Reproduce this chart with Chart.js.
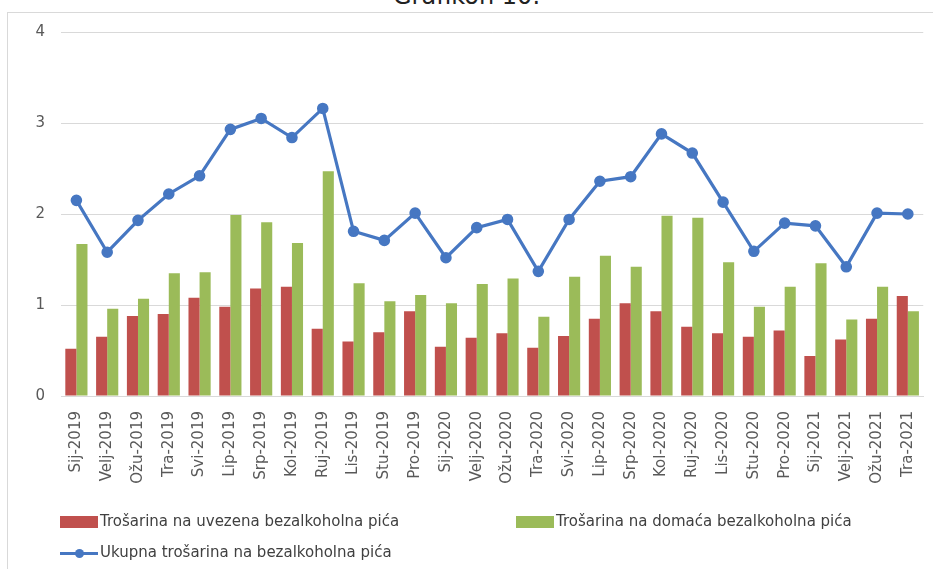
<!DOCTYPE html>
<html>
<head>
<meta charset="utf-8">
<script src="https://cdn.jsdelivr.net/npm/chart.js@4.4.1/dist/chart.umd.min.js"></script>
<style>
  html, body { margin: 0; padding: 0; background: #ffffff; }
  body { width: 933px; height: 569px; position: relative; overflow: hidden; font-family: "DejaVu Sans", Verdana, sans-serif; }
  #frame { position: absolute; left: 7px; top: 12px; width: 1000px; height: 700px; border: 1px solid #d9d9d9; box-sizing: border-box; }
  #title { position: absolute; left: 0; width: 933px; top: -18px; text-align: center; font-family: "DejaVu Sans", sans-serif; font-size: 24px; color: #222; }
  #wrap { position: absolute; left: 0; top: 0; width: 933px; height: 569px; }
  .leg { position: absolute; font-family: "DejaVu Sans", Verdana, sans-serif; font-size: 15px; color: #404040; white-space: nowrap; line-height: 17px; }
  .box { position: absolute; width: 38px; height: 12px; }
  .lline { position: absolute; width: 38px; height: 3px; background: #4677c2; }
  .ldot { position: absolute; width: 9px; height: 9px; border-radius: 50%; background: #4677c2; }
</style>
</head>
<body>
<div id="frame"></div>
<div id="title">Grafikon 10.</div>
<div id="wrap"><canvas id="c" width="933" height="569"></canvas></div>
<div class="box" style="left:60px;top:516px;background:#c0504d;"></div>
<div class="leg" style="left:100px;top:513px;" id="l1"></div>
<div class="box" style="left:516px;top:516px;background:#9bbb59;"></div>
<div class="leg" style="left:556px;top:513px;" id="l2"></div>
<div class="lline" style="left:60px;top:552px;"></div>
<div class="ldot" style="left:75px;top:549px;"></div>
<div class="leg" style="left:100px;top:544px;" id="l3"></div>
<script>
const categories = ["Sij-2019","Velj-2019","Ožu-2019","Tra-2019","Svi-2019","Lip-2019","Srp-2019","Kol-2019","Ruj-2019","Lis-2019","Stu-2019","Pro-2019",
  "Sij-2020","Velj-2020","Ožu-2020","Tra-2020","Svi-2020","Lip-2020","Srp-2020","Kol-2020","Ruj-2020","Lis-2020","Stu-2020","Pro-2020",
  "Sij-2021","Velj-2021","Ožu-2021","Tra-2021"];
const seriesNames = ["Trošarina na uvezena bezalkoholna pića","Trošarina na domaća bezalkoholna pića","Ukupna trošarina na bezalkoholna pića"];
const importedValues = [0.52,0.65,0.88,0.90,1.08,0.98,1.18,1.20,0.74,0.60,0.70,0.93,
  0.54,0.64,0.69,0.53,0.66,0.85,1.02,0.93,0.76,0.69,0.65,0.72,
  0.44,0.62,0.85,1.10];
const domesticValues = [1.67,0.96,1.07,1.35,1.36,1.99,1.91,1.68,2.47,1.24,1.04,1.11,
  1.02,1.23,1.29,0.87,1.31,1.54,1.42,1.98,1.96,1.47,0.98,1.20,
  1.46,0.84,1.20,0.93];
const totalValues = [2.15,1.58,1.93,2.22,2.42,2.93,3.05,2.84,3.16,1.81,1.71,2.01,
  1.52,1.85,1.94,1.37,1.94,2.36,2.41,2.88,2.67,2.13,1.59,1.90,
  1.87,1.42,2.01,2.00];
const yTicks = [0,1,2,3,4];

document.getElementById('l1').textContent = seriesNames[0];
document.getElementById('l2').textContent = seriesNames[1];
document.getElementById('l3').textContent = seriesNames[2];

const font = "'DejaVu Sans', Verdana, sans-serif";
new Chart(document.getElementById('c'), {
  data: {
    labels: categories,
    datasets: [
      { type: 'line', label: seriesNames[2], data: totalValues, borderColor: '#4677c2', backgroundColor: '#4677c2',
        borderWidth: 3.2, pointRadius: 4.2, pointHoverRadius: 4.2, pointBackgroundColor: '#4677c2', pointBorderColor: '#4677c2', tension: 0, order: 0 },
      { type: 'bar', label: seriesNames[0], data: importedValues, backgroundColor: '#c0504d', order: 1,
        categoryPercentage: 0.72, barPercentage: 1.0 },
      { type: 'bar', label: seriesNames[1], data: domesticValues, backgroundColor: '#9bbb59', order: 1,
        categoryPercentage: 0.72, barPercentage: 1.0 }
    ]
  },
  options: {
    responsive: false,
    animation: false,
    devicePixelRatio: 1,
    layout: { padding: { left: 0, right: 9, top: 32, bottom: 0 } },
    plugins: { legend: { display: false }, tooltip: { enabled: false }, title: { display: false } },
    scales: {
      x: {
        offset: true,
        grid: { display: false },
        border: { display: true, color: '#d9d9d9', width: 1 },
        ticks: { color: '#595959', font: { family: font, size: 15 }, minRotation: 90, maxRotation: 90, padding: 7, autoSkip: false },
        afterFit: (s) => { s.height = 173; }
      },
      y: {
        min: 0, max: 4,
        afterBuildTicks: (s) => { s.ticks = yTicks.map(v => ({ value: v })); },
        grid: { color: '#d9d9d9', lineWidth: 1, drawTicks: false },
        border: { display: false },
        ticks: { color: '#595959', font: { family: font, size: 15 }, padding: 16 },
        afterFit: (s) => { s.width = 61; }
      }
    }
  }
});
</script>
</body>
</html>
